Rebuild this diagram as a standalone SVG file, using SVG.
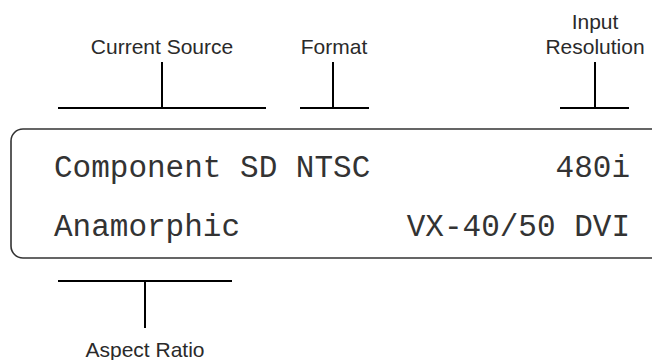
<svg xmlns="http://www.w3.org/2000/svg" width="652" height="360" viewBox="0 0 652 360">
<style>
.lbl{font-family:"Liberation Sans",Arial,sans-serif;font-size:21px;fill:#2a2a2a;text-anchor:middle}
.mono{font-family:"Liberation Mono","Courier New",monospace;font-size:31px;fill:#333}
.br{stroke:#000;stroke-width:2;fill:none}
</style>
<rect width="652" height="360" fill="#fff"/>
<g id="display">
<rect x="11" y="129" width="680" height="129" rx="12" ry="12" fill="none" stroke="#333" stroke-width="1.6"/>
<text class="mono" x="54" y="177">Component SD NTSC</text>
<text class="mono" x="630" y="177" text-anchor="end">480i</text>
<text class="mono" x="54" y="236">Anamorphic</text>
<text class="mono" x="630" y="236" text-anchor="end">VX-40/50 DVI</text>
</g>
<g id="current-source">
<text class="lbl" x="162" y="54">Current Source</text>
</g>
<g id="format">
<text class="lbl" x="334" y="54">Format</text>
</g>
<g id="input-resolution">
<text class="lbl" x="595" y="29">Input</text>
<text class="lbl" x="595" y="54">Resolution</text>
</g>
<g id="aspect-ratio">
<text class="lbl" x="145" y="357">Aspect Ratio</text>
</g>
<g id="connectors" class="br">
<path d="M58 108H266M162 62V108"/>
<path d="M300 108H369M333 62V108"/>
<path d="M560 108H629M595 62V108"/>
<path d="M58 281H232M145 281V328"/>
</g>
</svg>
